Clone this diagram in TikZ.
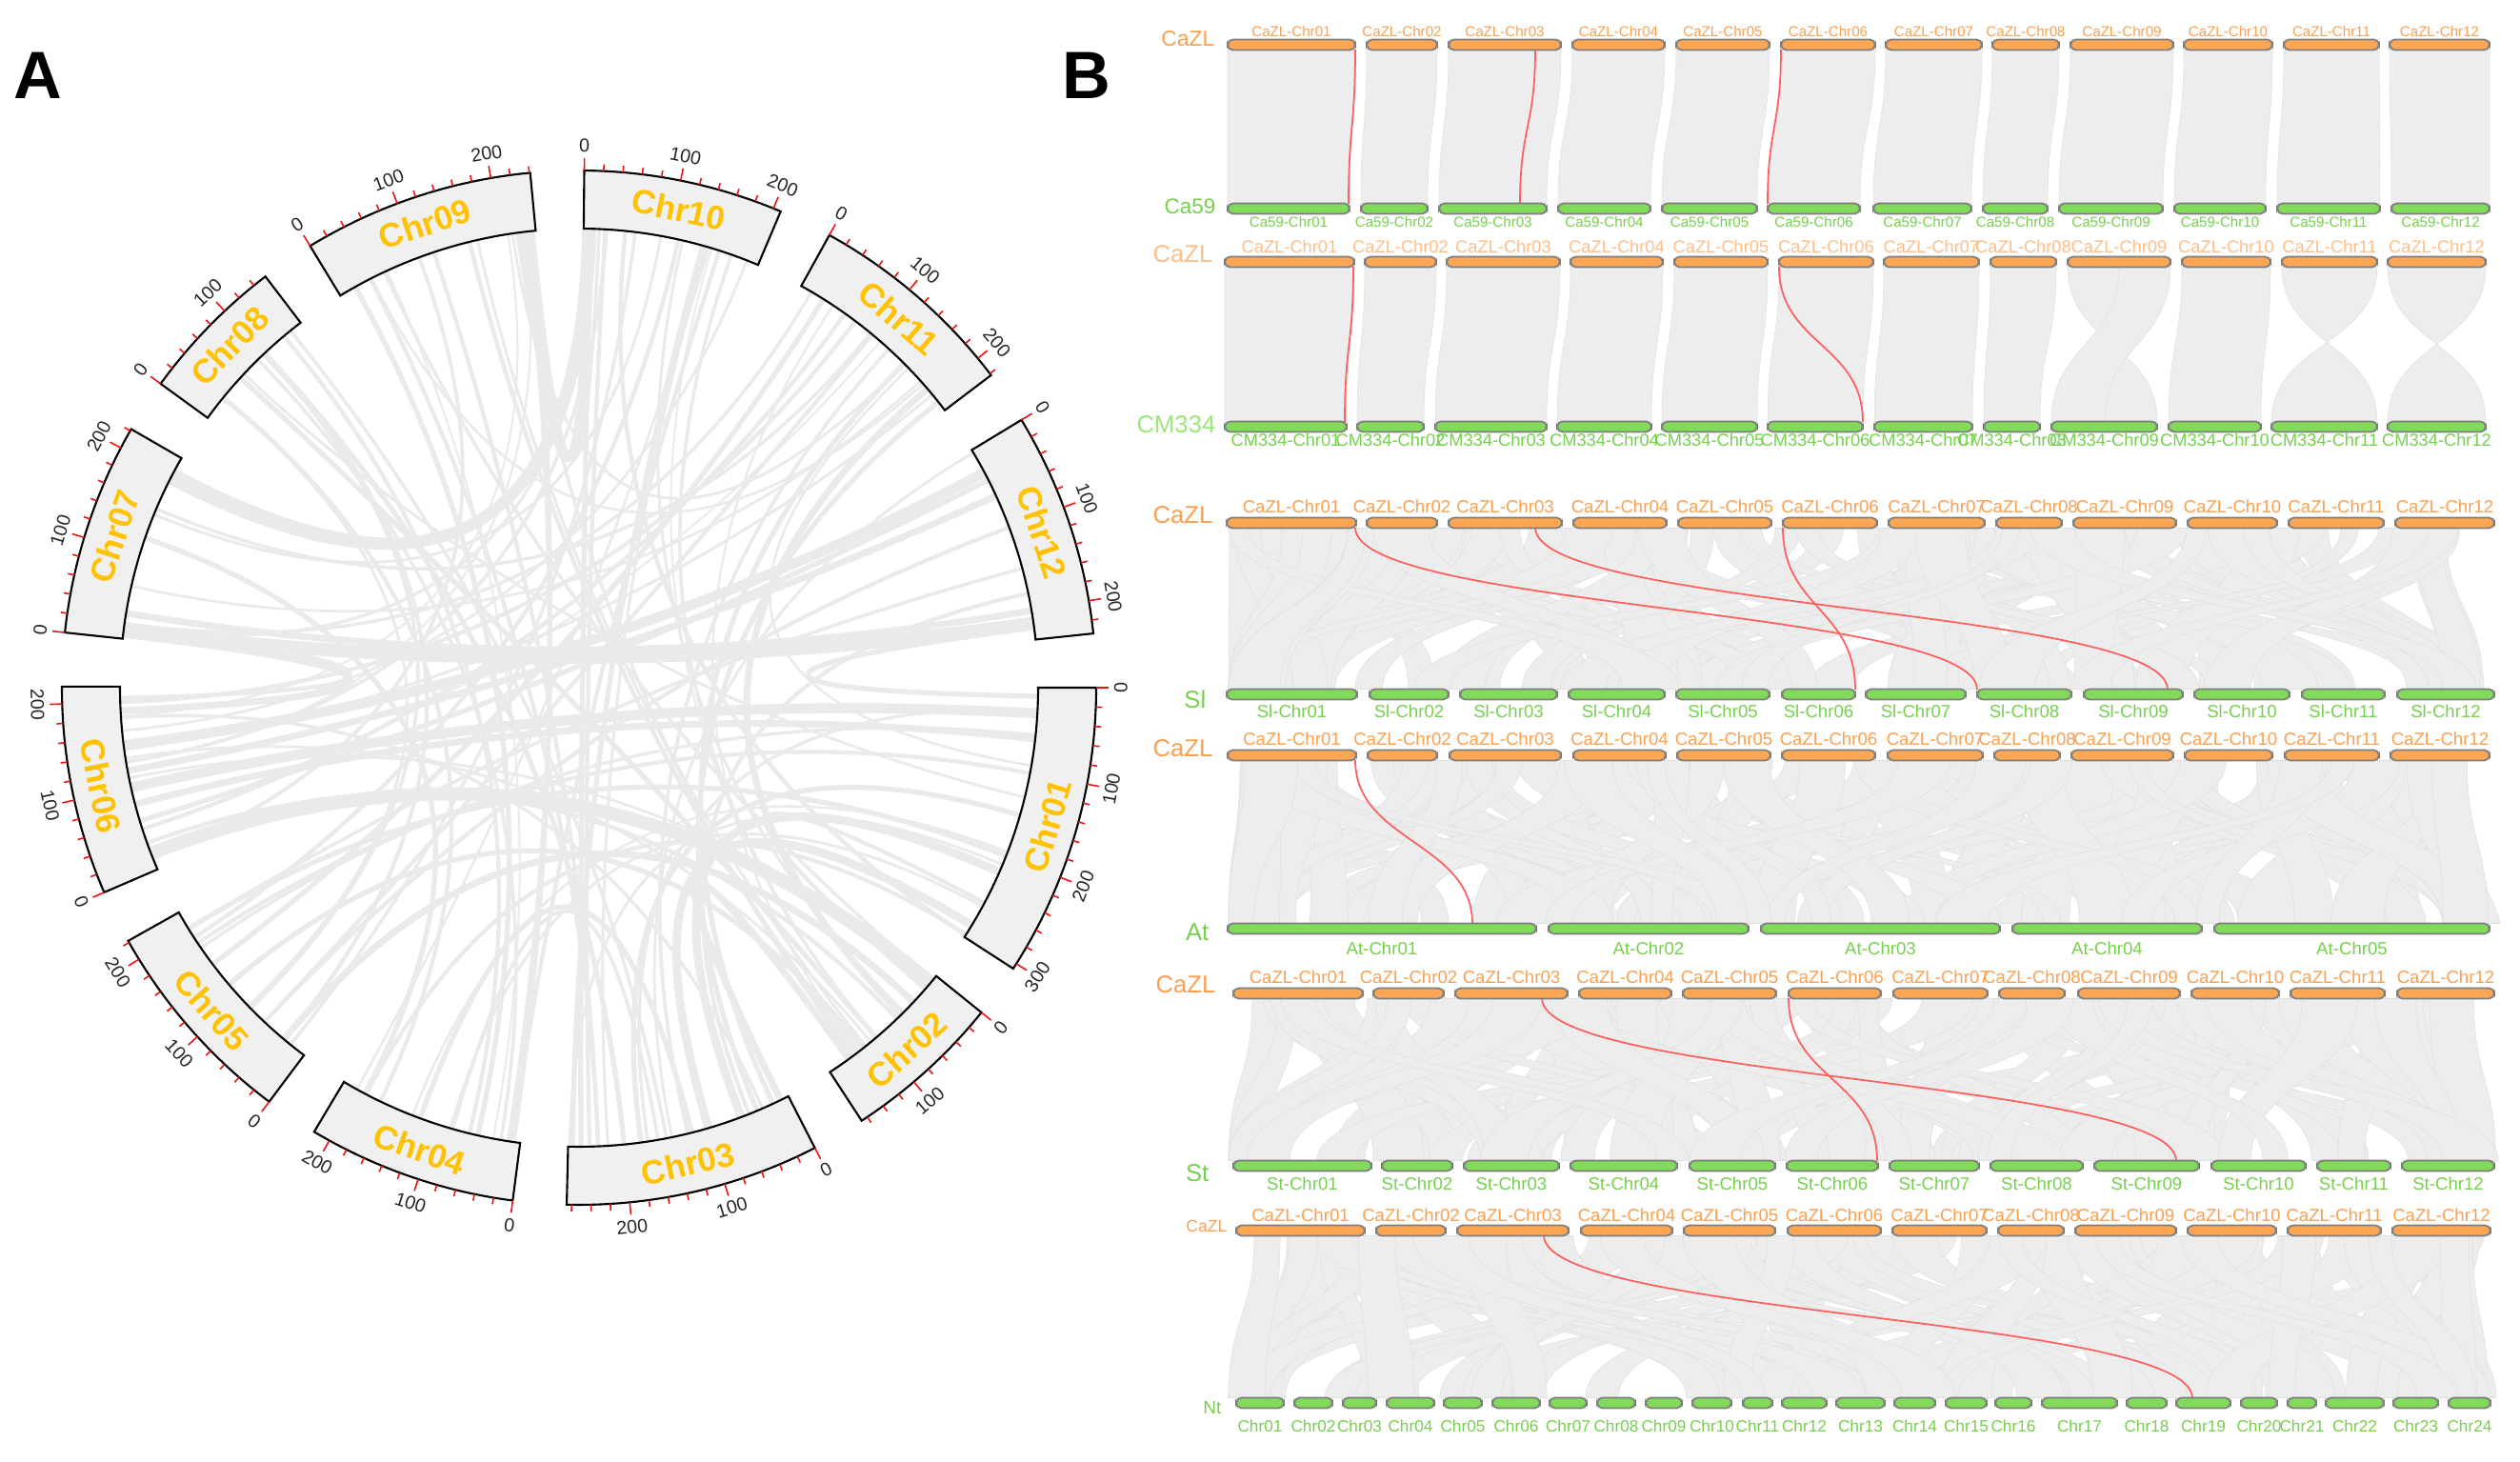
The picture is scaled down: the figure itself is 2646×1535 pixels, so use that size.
\documentclass[tikz,border=0pt]{standalone}
\usepackage{fontspec}
\setmainfont{Liberation Sans}
\usetikzlibrary{calc}

\definecolor{boxgray}{RGB}{240,240,240}
\definecolor{chrgold}{RGB}{255,194,0}
\definecolor{tickred}{RGB}{235,20,20}
\definecolor{linkgray}{RGB}{234,234,234}
\definecolor{syngray}{RGB}{237,237,237}
\definecolor{synedge}{RGB}{224,224,224}
\definecolor{zlorange}{RGB}{253,166,84}
\definecolor{zltext}{RGB}{250,160,80}
\definecolor{zllight}{RGB}{255,190,135}
\definecolor{spgreen}{RGB}{130,218,90}
\definecolor{sptext}{RGB}{118,208,78}
\definecolor{splight}{RGB}{155,230,120}
\definecolor{barrim}{RGB}{125,125,125}
\definecolor{hitred}{RGB}{255,95,95}

\def\kdeg{0.10754}
\def\starts{{0,-38.91,-62.87,-97.37,-126.81,-156.68,-186.12,-215.99,-238.66,-270.58,-298.95,-328.82}}
\def\lens{{306,167,265,218,222,218,222,155,241,208,222,234}}
\def\sz#1{\fontsize{#1}{#1}\selectfont}
% ribbon between two tracks: top a1-a2, bottom b1-b2, rows yt/yb
\def\ribbon#1#2#3#4#5#6{%
  \pgfmathsetmacro\ym{(#5+#6)/2}
  \filldraw[synteny] (#1,#5) .. controls (#1,\ym) and (#3,\ym) .. (#3,#6) -- (#4,#6) .. controls (#4,\ym) and (#2,\ym) .. (#2,#5) -- cycle;}
\def\synrow#1#2#3{%
  \foreach \i in {1,...,#3}{
    \pgfmathsetmacro\ta{1290+rnd*1280}
    \pgfmathsetmacro\tw{18+rnd*42}
    \pgfmathsetmacro\ba{min(max(\ta+(rnd-0.5)*1000,1290),2565)}
    \pgfmathsetmacro\bw{18+rnd*42}
    \ribbon{\ta}{\ta+\tw}{\ba}{\ba+\bw}{#1}{#2}
  }}
\def\hitlink#1#2{\draw[hit] (#1) .. controls ($(#1)!0.5!(#1|-#2)$) and ($(#2)!0.5!(#2|-#1)$) .. (#2);}

\tikzset{
  chrbox/.style={fill=boxgray, draw=black, line width=0.6pt},
  tickline/.style={draw=tickred, line width=0.45pt},
  ticklabel/.style={font=\sz{5.6}, text=black!85, inner sep=0pt},
  chrname/.style={font=\bfseries\sz{10}, text=chrgold, inner sep=0pt},
  linkline/.style={draw=linkgray},
  synteny/.style={fill=syngray, draw=synedge, line width=0.15pt},
  zlbar/.style={fill=zlorange, draw=barrim, line width=0.5pt, rounded corners=1.6pt},
  spbar/.style={fill=spgreen, draw=barrim, line width=0.5pt, rounded corners=1.6pt},
  zllab/.style={font=\sz{#1}, text=zltext, inner sep=0pt},
  splab/.style={font=\sz{#1}, text=sptext, inner sep=0pt},
  hit/.style={draw=hitred, line width=0.5pt},
  panel/.style={font=\bfseries\sz{20}, inner sep=0pt},
}

\begin{document}
\begin{tikzpicture}[x=0.1mm, y=-0.1mm]
		\useasboundingbox (0,0) rectangle (2646,1535);
		\fill[white] (0,0) rectangle (2646,1535);
		
		\node[panel] (lblA) at (40,79) {A};
		\node[panel] (lblB) at (1141,79) {B};
		
		%%%%% A: circos %%%%%
		\begin{scope}[shift={(608,722)}, yscale=-1]
		\pgfmathsetseed{5}
		\foreach \i in {1,...,45}{
			\pgfmathrandominteger{\ca}{1}{12}
			\pgfmathrandominteger{\cj}{2}{10}
			\pgfmathtruncatemacro\cb{mod(\ca+\cj-1,12)+1}
			\pgfmathsetmacro\aa{\starts[\ca-1]-rnd*\lens[\ca-1]*\kdeg}
			\pgfmathsetmacro\ab{\starts[\cb-1]-rnd*\lens[\cb-1]*\kdeg}
			\pgfmathsetmacro\w{0.5+rnd*0.8}
			\draw[linkline, line width=\w pt] (\aa:482) .. controls (\aa:161) and (\ab:161) .. (\ab:482);
		}
		\foreach \ca/\pa/\cb/\pb/\w in {7/10/12/215/4, 7/30/12/200/2, 7/195/10/5/3.5, 7/205/10/12/1.5,
			9/225/10/4/2, 9/232/10/10/1.5, 9/238/10/18/1, 8/100/3/200/1.5, 8/130/4/60/1.2, 8/140/3/150/1,
			9/20/4/50/1.5, 9/40/3/230/1.2, 10/140/3/260/1.5, 10/160/4/10/1.2, 10/175/2/100/1,
			11/30/5/150/1.5, 11/60/6/50/1.2, 11/190/2/60/2, 11/210/3/40/1.5, 12/30/6/150/3,
			12/60/6/120/2, 12/100/5/60/1.2, 1/30/6/100/3, 1/60/6/80/2, 1/150/3/180/1.5,
			1/200/5/200/1.5, 1/260/2/20/1.2, 1/290/3/100/2.5, 6/190/7/5/2, 6/205/7/15/1.2,
			5/120/2/120/1.5, 5/180/1/100/1.2, 5/200/12/150/1, 4/8/9/230/1.5, 4/14/9/236/1,
			3/250/10/8/1.5, 3/240/10/25/1.2, 2/10/6/20/4, 2/40/5/30/2, 2/100/8/60/1.5,
			3/20/11/150/1.5, 3/50/12/180/1.2, 4/170/8/30/1.2, 4/190/7/120/1.5, 3/120/4/120/1.5,
			3/160/4/80/1, 2/140/3/10/2, 1/220/3/60/2.5, 12/220/1/10/1.5, 6/60/12/40/1.5,
			5/60/11/100/1.2, 9/120/3/230/1.2, 10/60/5/20/1}{
			\pgfmathsetmacro\aa{\starts[\ca-1]-\pa*\kdeg}
			\pgfmathsetmacro\ab{\starts[\cb-1]-\pb*\kdeg}
			\draw[linkline, line width=\w pt] (\aa:482) .. controls (\aa:161) and (\ab:161) .. (\ab:482);
		}
		
		\foreach \cn/\cs/\cl in {01/0/306, 02/-38.91/167, 03/-62.87/265, 04/-97.37/218, 05/-126.81/222, 06/-156.68/218,
			07/-186.12/222, 08/-215.99/155, 09/-238.66/241, 10/-270.58/208, 11/-298.95/222, 12/-328.82/234}{
			\pgfmathsetmacro\cend{\cs-\cl*\kdeg}
			\pgfmathsetmacro\cmid{(\cs+\cend)/2}
			\draw[chrbox] (\cs:482) arc[start angle=\cs, end angle=\cend, radius=482] -- (\cend:543) arc[start angle=\cend, end angle=\cs, radius=543] -- cycle;
			\pgfmathsetmacro\tang{mod(\cmid+720,360)}
			\pgfmathsetmacro\trot{\tang<180 ? \tang-90 : \tang+90}
			\node[chrname, rotate=\trot] (chr\cn) at (\cmid:513) {Chr\cn};
			\foreach \p in {0,20,...,\cl}{
				\pgfmathsetmacro\ang{\cs-\p*\kdeg}
				\pgfmathtruncatemacro\ismajor{mod(\p,100)==0}
				\ifnum\ismajor=1
					\draw[tickline] (\ang:543) -- (\ang:556);
					\pgfmathsetmacro\tang{mod(\ang+720,360)}
					\pgfmathsetmacro\trot{\tang<180 ? \tang-90 : \tang+90}
					\node[ticklabel, rotate=\trot] (tick\cn-\p) at (\ang:569) {\p};
				\else
					\draw[tickline] (\ang:543) -- (\ang:550);
				\fi
			}
		}
		\end{scope}
		
		%%%%% B: synteny rows %%%%%
		% row 1 and row 2 (collinear)
		\foreach \ta/\tb/\ba/\bb in {1289/1423/1289/1417, 1435/1509/1429/1499, 1521/1639/1511/1624, 1651/1748/1636/1733,
			1760/1858/1745/1845, 1870/1969/1856/1953, 1980/2081/1967/2070, 2092/2162/2082/2150,
			2174/2282/2162/2271, 2293/2386/2283/2379, 2398/2498/2391/2499, 2509/2614/2511/2614}
			\ribbon{\ta}{\tb}{\ba}{\bb}{52.5}{213.5};
		\foreach \ta/\tb/\ba/\bb in {1286/1422/1286/1414, 1433/1508/1425/1495, 1519/1638/1507/1624, 1649/1746/1635/1734,
			1758/1856/1745/1845, 1868/1967/1856/1956, 1978/2078/1968/2071, 2090/2159/2083/2142,
			2171/2225/2265/2210, 2225/2279/2154/2210, 2291/2384/2277/2374, 2396/2496/2496/2385, 2507/2610/2610/2507}
			\ribbon{\ta}{\tb}{\ba}{\bb}{280.5}{442.5};
		
		% rows 3-6
		\pgfmathsetseed{11}
		\synrow{554.5}{723.5}{95}
		\synrow{798.5}{969.5}{100}
		\synrow{1048.5}{1218.5}{95}
		\synrow{1297.5}{1467.5}{95}
		
		% red hits
		\coordinate (h1a) at (1423,52);   \coordinate (h1b) at (1416,214);
		\coordinate (h2a) at (1612,52);   \coordinate (h2b) at (1596,214);
		\coordinate (h3a) at (1870,52);   \coordinate (h3b) at (1856,214);
		\coordinate (h4a) at (1421,280);  \coordinate (h4b) at (1412,443);
		\coordinate (h5a) at (1868,280);  \coordinate (h5b) at (1956,443);
		\coordinate (h6a) at (1423,554);  \coordinate (h6b) at (2076,724);
		\coordinate (h7a) at (1612,554);  \coordinate (h7b) at (2276,724);
		\coordinate (h8a) at (1872,554);  \coordinate (h8b) at (1948,724);
		\coordinate (h9a) at (1423,798);  \coordinate (h9b) at (1546,970);
		\coordinate (h10a) at (1619,1048); \coordinate (h10b) at (2285,1219);
		\coordinate (h11a) at (1878,1048); \coordinate (h11b) at (1971,1219);
		\coordinate (h12a) at (1621,1297); \coordinate (h12b) at (2302,1468);
		\foreach \h in {1,...,12} {\hitlink{h\h a}{h\h b}}
		
		% species names
		\node[zllab=6.5, anchor=east] (sp1t) at (1276,41) {CaZL};
		\node[splab=6.4, anchor=east] (sp1b) at (1277,217) {Ca59};
		\node[zllab=7.3, text=zllight, anchor=east] (sp2t) at (1274,267) {CaZL};
		\node[splab=7.3, text=splight, anchor=east] (sp2b) at (1277,446) {CM334};
		\node[zllab=7.3, anchor=east] (sp3t) at (1274,541) {CaZL};
		\node[splab=7.3, anchor=east] (sp3b) at (1267,734) {Sl};
		\node[zllab=7.3, anchor=east] (sp4t) at (1274,786) {CaZL};
		\node[splab=7.3, anchor=east] (sp4b) at (1270,979) {At};
		\node[zllab=7.3, anchor=east] (sp5t) at (1277,1034) {CaZL};
		\node[splab=7.3, anchor=east] (sp5b) at (1270,1232) {St};
		\node[zllab=5, anchor=east] (sp6t) at (1289,1287) {CaZL};
		\node[splab=5.4, anchor=east] (sp6b) at (1283,1478) {Nt};
		
		% row 1
		\foreach \n/\xa/\xb in {01/1289/1423, 02/1435/1509, 03/1521/1639, 04/1651/1748, 05/1760/1858, 06/1870/1969,
			07/1980/2081, 08/2092/2162, 09/2174/2282, 10/2293/2386, 11/2398/2498, 12/2509/2614}{
			\draw[zlbar] (\xa,41.5) rectangle (\xb,52.5);
			\node[zllab=4.3] (r1t\n) at ({(\xa+\xb)/2},33) {CaZL-Chr\n};
		}
		\foreach \n/\xa/\xb in {01/1289/1417, 02/1429/1499, 03/1511/1624, 04/1636/1733, 05/1745/1845, 06/1856/1953,
			07/1967/2070, 08/2082/2150, 09/2162/2271, 10/2283/2379, 11/2391/2499, 12/2511/2614}{
			\draw[spbar] (\xa,213.5) rectangle (\xb,224.5);
			\node[splab=4.3] (r1b\n) at ({(\xa+\xb)/2},233) {Ca59-Chr\n};
		}
		% row 2
		\foreach \n/\xa/\xb in {01/1286/1422, 02/1433/1508, 03/1519/1638, 04/1649/1746, 05/1758/1856, 06/1868/1967,
			07/1978/2078, 08/2090/2159, 09/2171/2279, 10/2291/2384, 11/2396/2496, 12/2507/2610}{
			\draw[zlbar] (\xa,269.5) rectangle (\xb,280.5);
			\node[zllab=5.2, text=zllight] (r2t\n) at ({(\xa+\xb)/2},259) {CaZL-Chr\n};
		}
		\foreach \n/\xa/\xb in {01/1286/1414, 02/1425/1495, 03/1507/1624, 04/1635/1734, 05/1745/1845, 06/1856/1956,
			07/1968/2071, 08/2083/2142, 09/2154/2265, 10/2277/2374, 11/2385/2496, 12/2507/2610}{
			\draw[spbar] (\xa,442.5) rectangle (\xb,453.5);
			\node[splab=5.2] (r2b\n) at ({(\xa+\xb)/2},462) {CM334-Chr\n};
		}
		% row 3
		\foreach \n/\xa/\xb in {01/1288/1424, 02/1435/1509, 03/1521/1640, 04/1652/1750, 05/1762/1860, 06/1872/1971,
			07/1983/2084, 08/2096/2165, 09/2177/2285, 10/2297/2391, 11/2403/2503, 12/2515/2619}{
			\draw[zlbar] (\xa,543.5) rectangle (\xb,554.5);
			\node[zllab=5.3] (r3t\n) at ({(\xa+\xb)/2},532) {CaZL-Chr\n};
		}
		\foreach \n/\xa/\xb in {01/1288/1425, 02/1438/1521, 03/1533/1635, 04/1647/1748, 05/1760/1858, 06/1871/1948,
			07/1959/2064, 08/2076/2175, 09/2188/2292, 10/2304/2404, 11/2417/2504, 12/2517/2619}{
			\draw[spbar] (\xa,723.5) rectangle (\xb,734.5);
			\node[splab=5.3] (r3b\n) at ({(\xa+\xb)/2},747) {Sl-Chr\n};
		}
		% row 4
		\foreach \n/\xa/\xb in {01/1289/1424, 02/1436/1509, 03/1522/1639, 04/1652/1749, 05/1761/1859, 06/1871/1969,
			07/1982/2082, 08/2094/2163, 09/2175/2282, 10/2294/2386, 11/2399/2498, 12/2510/2614}{
			\draw[zlbar] (\xa,787.5) rectangle (\xb,798.5);
			\node[zllab=5.3] (r4t\n) at ({(\xa+\xb)/2},776) {CaZL-Chr\n};
		}
		\foreach \n/\xa/\xb in {01/1289/1613, 02/1626/1836, 03/1849/2100, 04/2113/2312, 05/2325/2614}{
			\draw[spbar] (\xa,969.5) rectangle (\xb,980.5);
			\node[splab=5.3] (r4b\n) at ({(\xa+\xb)/2},996) {At-Chr\n};
		}
		% row 5
		\foreach \n/\xa/\xb in {01/1295/1431, 02/1442/1516, 03/1528/1646, 04/1658/1755, 05/1767/1865, 06/1878/1975,
			07/1988/2087, 08/2099/2168, 09/2182/2289, 10/2301/2393, 11/2405/2504, 12/2517/2619}{
			\draw[zlbar] (\xa,1037.5) rectangle (\xb,1048.5);
			\node[zllab=5.3] (r5t\n) at ({(\xa+\xb)/2},1026) {CaZL-Chr\n};
		}
		\foreach \n/\xa/\xb in {01/1295/1440, 02/1451/1525, 03/1537/1637, 04/1649/1761, 05/1774/1864, 06/1876/1972,
			07/1984/2078, 08/2090/2187, 09/2199/2309, 10/2322/2421, 11/2433/2510, 12/2522/2619}{
			\draw[spbar] (\xa,1218.5) rectangle (\xb,1229.5);
			\node[splab=5.3] (r5b\n) at ({(\xa+\xb)/2},1243) {St-Chr\n};
		}
		% row 6
		\foreach \n/\xa/\xb in {01/1298/1433, 02/1445/1518, 03/1530/1647, 04/1660/1756, 05/1768/1864, 06/1877/1975,
			07/1987/2086, 08/2098/2167, 09/2179/2285, 10/2297/2390, 11/2402/2500, 12/2512/2615}{
			\draw[zlbar] (\xa,1286.5) rectangle (\xb,1297.5);
			\node[zllab=5.3] (r6t\n) at ({(\xa+\xb)/2},1276) {CaZL-Chr\n};
		}
		\foreach \n/\xa/\xb in {01/1298/1348, 02/1359/1399, 03/1410/1445, 04/1456/1506, 05/1516/1556, 06/1567/1617,
			07/1627/1666, 08/1677/1717, 09/1728/1766, 10/1777/1818, 11/1830/1861, 12/1871/1918,
			13/1928/1979, 14/1989/2032, 15/2043/2086, 16/2095/2133, 17/2144/2223, 18/2233/2275,
			19/2285/2342, 20/2353/2391, 21/2402/2432, 22/2442/2503, 23/2513/2560, 24/2571/2615}{
			\draw[spbar] (\xa,1467.5) rectangle (\xb,1478.5);
			\node[splab=4.9] (r6b\n) at ({(\xa+\xb)/2},1497) {Chr\n};
		}
	\end{tikzpicture}
\end{document}
